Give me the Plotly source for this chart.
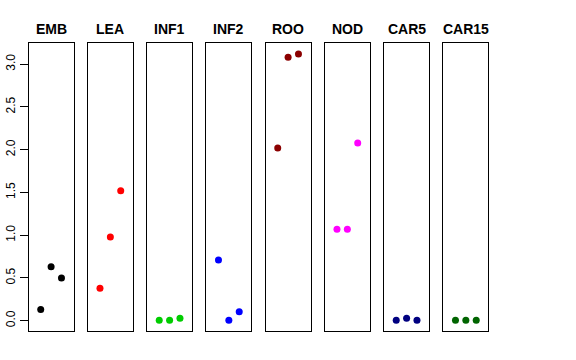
import plotly.graph_objects as go

panels = ["EMB", "LEA", "INF1", "INF2", "ROO", "NOD", "CAR5", "CAR15"]
colors = ["#000000", "#FF0000", "#00CD00", "#0000FF", "#8B0000", "#FF00FF", "#000080", "#006400"]
xpos = [1, 2, 3]
values = [
    [0.13, 0.63, 0.50],
    [0.38, 0.98, 1.52],
    [0.005, 0.005, 0.03],
    [0.71, 0.005, 0.105],
    [2.02, 3.08, 3.12],
    [1.07, 1.07, 2.08],
    [0.005, 0.028, 0.005],
    [0.005, 0.005, 0.005],
]
yticks = [0.0, 0.5, 1.0, 1.5, 2.0, 2.5, 3.0]
yticklabels = ["0.0", "0.5", "1.0", "1.5", "2.0", "2.5", "3.0"]

W, H = 576, 360
left0 = 28.7
step = 59.25
pw = 44.8
ytop, ybot = 43, 331
ytitle = 29

fig = go.Figure()
layout = {}
for i, (name, col, vals) in enumerate(zip(panels, colors, values)):
    n = "" if i == 0 else str(i + 1)
    fig.add_trace(go.Scatter(
        x=xpos, y=vals, mode="markers",
        marker=dict(color=col, size=7),
        xaxis="x" + n, yaxis="y" + n, showlegend=False,
        hoverinfo="y",
    ))
    x0 = left0 + i * step
    d = [x0 / W, (x0 + pw) / W]
    layout["xaxis" + n] = dict(
        domain=d, range=[-0.16, 4.16], showgrid=False, zeroline=False,
        showticklabels=False, ticks="", showline=True, mirror=True,
        linecolor="#000000", linewidth=1, anchor="y" + n, fixedrange=True,
        automargin=False,
    )
    ya = dict(
        domain=[(H - ybot) / H, (H - ytop) / H], range=[-0.12, 3.248],
        showgrid=False, zeroline=False, showline=True, mirror=True,
        linecolor="#000000", linewidth=1, anchor="x" + n, fixedrange=True,
        automargin=False,
    )
    if i == 0:
        ya.update(ticks="outside", ticklen=8, tickcolor="#000000", tickwidth=1,
                  tickvals=yticks, ticktext=yticklabels, tickangle=-90,
                  tickfont=dict(family="Liberation Sans, Arial, sans-serif", size=12, color="#000000"))
    else:
        ya.update(showticklabels=False, ticks="")
    layout["yaxis" + n] = ya
    fig.add_annotation(
        text="<b>" + name + "</b>", x=(x0 + pw / 2) / W, y=(H - ytitle) / H,
        xref="paper", yref="paper", showarrow=False, xanchor="center", yanchor="middle",
        font=dict(family="Liberation Sans, Arial, sans-serif", size=14, color="#000000"),
    )

fig.update_layout(
    width=W, height=H, margin=dict(l=0, r=0, t=0, b=0, autoexpand=False),
    paper_bgcolor="white", plot_bgcolor="white", **layout,
)
fig.write_html("out.html", config={"displayModeBar": False},
               post_script="document.body.style.margin='0';")
